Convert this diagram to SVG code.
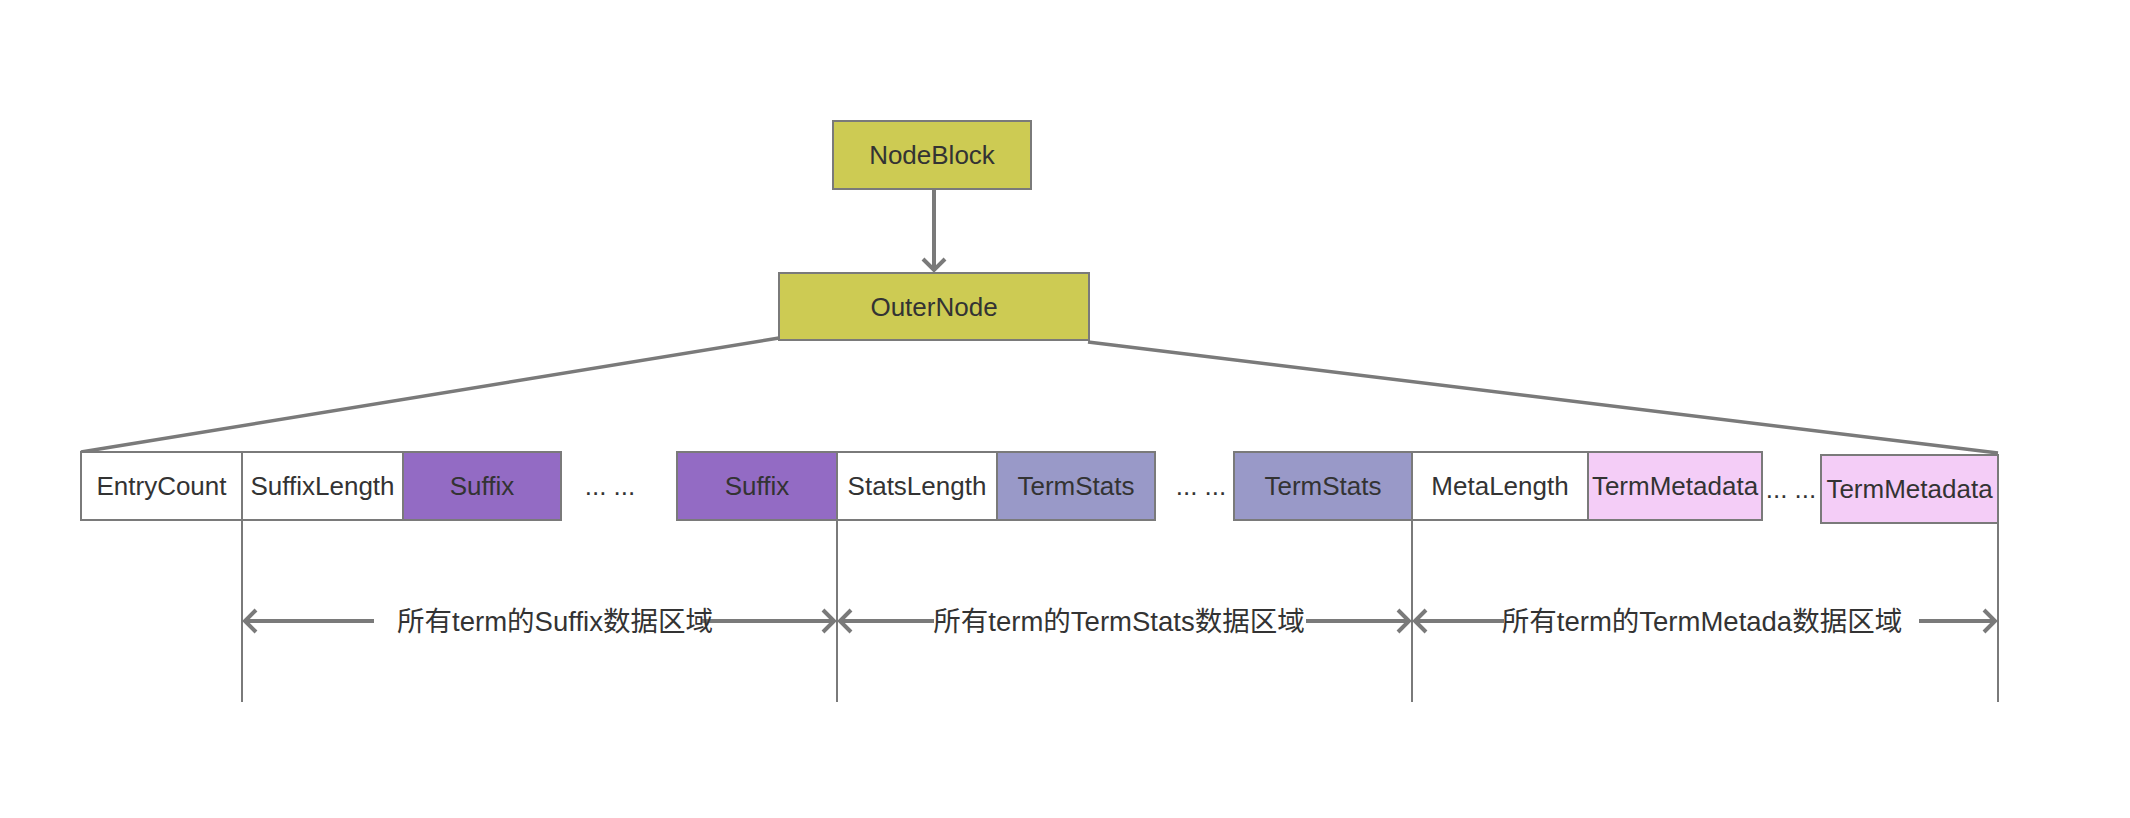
<svg xmlns="http://www.w3.org/2000/svg" width="2130" height="818" viewBox="0 0 2130 818">
<style>
.t{font-family:"Liberation Sans","Noto Sans CJK SC",sans-serif;font-size:26px;fill:#333;text-anchor:middle;dominant-baseline:central}
.c{font-family:"Liberation Sans","Noto Sans CJK SC",sans-serif;font-size:27.5px;fill:#333;text-anchor:middle;dominant-baseline:central}
.box{stroke:#7a7a7a;stroke-width:2}
.olive{fill:#cdcb53}
.white{fill:#fff}
.purple{fill:#936bc4}
.lav{fill:#9999c8}
.pink{fill:#f4cdf7}
.ln{stroke:#7a7a7a;fill:none}
</style>
<defs>
<marker id="ah" markerUnits="userSpaceOnUse" markerWidth="24" markerHeight="28" refX="16" refY="14" orient="auto-start-reverse">
<path d="M4,3 L15,14 L4,25" fill="none" stroke="#7a7a7a" stroke-width="4"/>
</marker>
</defs>
<g id="connectors">
<line class="ln" x1="934" y1="189" x2="934" y2="271" stroke-width="4" marker-end="url(#ah)"/>
<line class="ln" x1="779" y1="338" x2="81" y2="452" stroke-width="3.5"/>
<line class="ln" x1="1088" y1="342" x2="1998" y2="453" stroke-width="3.5"/>
<line class="ln" x1="242" y1="520" x2="242" y2="702" stroke-width="2"/>
<line class="ln" x1="837" y1="520" x2="837" y2="702" stroke-width="2"/>
<line class="ln" x1="1412" y1="520" x2="1412" y2="702" stroke-width="2"/>
<line class="ln" x1="1998" y1="523" x2="1998" y2="702" stroke-width="2"/>
<line class="ln" x1="374" y1="621" x2="244" y2="621" stroke-width="4" marker-end="url(#ah)"/>
<line class="ln" x1="702" y1="621" x2="835" y2="621" stroke-width="4" marker-end="url(#ah)"/>
<line class="ln" x1="934" y1="621" x2="839" y2="621" stroke-width="4" marker-end="url(#ah)"/>
<line class="ln" x1="1306" y1="621" x2="1410" y2="621" stroke-width="4" marker-end="url(#ah)"/>
<line class="ln" x1="1504" y1="621" x2="1414" y2="621" stroke-width="4" marker-end="url(#ah)"/>
<line class="ln" x1="1919" y1="621" x2="1996" y2="621" stroke-width="4" marker-end="url(#ah)"/>
</g>
<g id="nodeblock"><rect class="box olive" x="833" y="121" width="198" height="68"/><text class="t" x="932" y="155">NodeBlock</text></g>
<g id="outernode"><rect class="box olive" x="779" y="273" width="310" height="67"/><text class="t" x="934" y="307">OuterNode</text></g>
<g id="entrycount"><rect class="box white" x="81" y="452" width="161" height="68"/><text class="t" x="161.5" y="486">EntryCount</text></g>
<g id="suffixlength"><rect class="box white" x="242" y="452" width="161" height="68"/><text class="t" x="322.5" y="486">SuffixLength</text></g>
<g id="suffix1"><rect class="box purple" x="403" y="452" width="158" height="68"/><text class="t" x="482" y="486">Suffix</text></g>
<g id="dots1"><text class="t" x="610" y="486">... ...</text></g>
<g id="suffix2"><rect class="box purple" x="677" y="452" width="160" height="68"/><text class="t" x="757" y="486">Suffix</text></g>
<g id="statslength"><rect class="box white" x="837" y="452" width="160" height="68"/><text class="t" x="917" y="486">StatsLength</text></g>
<g id="termstats1"><rect class="box lav" x="997" y="452" width="158" height="68"/><text class="t" x="1076" y="486">TermStats</text></g>
<g id="dots2"><text class="t" x="1201" y="486">... ...</text></g>
<g id="termstats2"><rect class="box lav" x="1234" y="452" width="178" height="68"/><text class="t" x="1323" y="486">TermStats</text></g>
<g id="metalength"><rect class="box white" x="1412" y="452" width="176" height="68"/><text class="t" x="1500" y="486">MetaLength</text></g>
<g id="termmetadata1"><rect class="box pink" x="1588" y="452" width="174" height="68"/><text class="t" x="1675" y="486">TermMetadata</text></g>
<g id="dots3"><text class="t" x="1791" y="489">... ...</text></g>
<g id="termmetadata2"><rect class="box pink" x="1821" y="455" width="177" height="68"/><text class="t" x="1909.5" y="489">TermMetadata</text></g>
<g id="labels">
<text class="c" x="555" y="621">所有term的Suffix数据区域</text>
<text class="c" x="1119" y="621">所有term的TermStats数据区域</text>
<text class="c" x="1702" y="621">所有term的TermMetada数据区域</text>
</g>
</svg>
